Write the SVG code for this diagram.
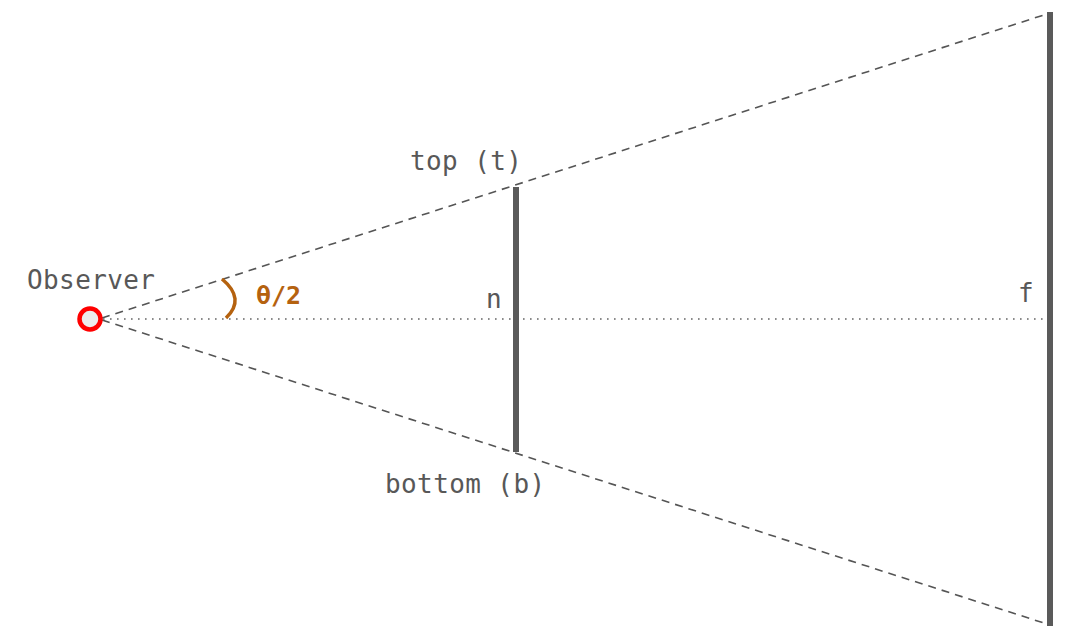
<svg xmlns="http://www.w3.org/2000/svg" width="1085" height="642" viewBox="0 0 1085 642">
<style>
.lbl{font-family:"DejaVu Sans Mono","Liberation Mono",monospace;font-size:26px;letter-spacing:0.4px;fill:#585858}
.ang{font-family:"DejaVu Sans Mono","Liberation Mono",monospace;font-size:25px;font-weight:bold;fill:#b5620f}
.dash{stroke:#555;stroke-width:1.6;stroke-dasharray:8 6;fill:none}
.dot{stroke:#666;stroke-width:1.6;stroke-dasharray:1.6 5.4;fill:none}
.plane{stroke:#5a5a5a;stroke-width:6;fill:none}
</style>
<rect width="1085" height="642" fill="#fff"/>
<g id="connectors">
<line class="dash" x1="102" y1="318" x2="1050" y2="13"/>
<line class="dash" x1="102" y1="320" x2="1050" y2="625"/>
<line class="dot" x1="103" y1="319" x2="1048" y2="319"/>
</g>
<g id="near-plane">
<line class="plane" x1="516" y1="187" x2="516" y2="452"/>
<text class="lbl" x="410" y="170">top (t)</text>
<text class="lbl" x="385" y="493">bottom (b)</text>
<text class="lbl" x="486" y="308">n</text>
</g>
<g id="far-plane">
<line class="plane" x1="1050" y1="12" x2="1050" y2="626"/>
<text class="lbl" x="1018" y="302">f</text>
</g>
<g id="observer">
<circle cx="90" cy="319" r="10.5" fill="#ececec" stroke="#f00" stroke-width="4.5"/>
<text class="lbl" x="27" y="289">Observer</text>
</g>
<g id="angle">
<path d="M222,279 Q246,299 226,318" fill="none" stroke="#b5620f" stroke-width="3.5"/>
<text class="ang" x="256" y="304">θ/2</text>
</g>
</svg>
